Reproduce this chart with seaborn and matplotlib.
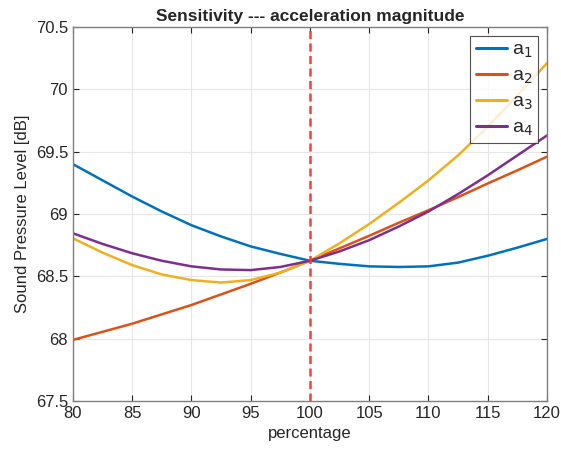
import numpy as np
import pandas as pd
import matplotlib
matplotlib.use('Agg')
import matplotlib.pyplot as plt
import seaborn as sns

# values every 2.5 %
percentage = [80, 82.5, 85, 87.5, 90, 92.5, 95, 97.5, 100,
              102.5, 105, 107.5, 110, 112.5, 115, 117.5, 120]
a1 = [69.40, 69.27, 69.14, 69.02, 68.91, 68.82, 68.74, 68.68, 68.625,
      68.60, 68.58, 68.575, 68.58, 68.61, 68.665, 68.73, 68.80]
a2 = [67.99, 68.055, 68.12, 68.195, 68.27, 68.355, 68.44, 68.53, 68.625,
      68.725, 68.825, 68.93, 69.03, 69.135, 69.245, 69.35, 69.46]
a3 = [68.805, 68.69, 68.59, 68.515, 68.47, 68.45, 68.47, 68.53, 68.625,
      68.765, 68.92, 69.09, 69.27, 69.47, 69.70, 69.95, 70.21]
a4 = [68.845, 68.76, 68.685, 68.625, 68.58, 68.555, 68.55, 68.575, 68.625,
      68.70, 68.79, 68.90, 69.02, 69.16, 69.31, 69.47, 69.63]
labels = ['a$_1$', 'a$_2$', 'a$_3$', 'a$_4$']
colors = ['#0072BD', '#D95319', '#EDB120', '#7E2F8E']

df = pd.DataFrame({'percentage': percentage * 4,
                   'spl': a1 + a2 + a3 + a4,
                   'param': sum([[l] * len(percentage) for l in labels], [])})

sns.set_style('white')
plt.rcParams['font.family'] = ['Liberation Sans', 'DejaVu Sans']

fig = plt.figure(figsize=(5.61, 4.53), dpi=100)
ax = fig.add_axes([0.130, 0.1148, 0.845, 0.8256])
sns.lineplot(data=df, x='percentage', y='spl', hue='param', palette=colors,
             linewidth=1.8, ax=ax)
ax.axvline(100, color='#FF3B3B', linestyle=(0, (3.2, 1.8)), linewidth=1.8)

ax.set_xlim(80, 120)
ax.set_ylim(67.5, 70.5)
ax.set_xticks(np.arange(80, 121, 5))
ax.set_yticks(np.arange(67.5, 70.6, 0.5))
ax.set_yticklabels(['67.5', '68', '68.5', '69', '69.5', '70', '70.5'])
ax.grid(True, color='#E6E6E6', linewidth=0.8)
ax.tick_params(axis='both', labelsize=12, colors='#262626', length=4,
               direction='in', bottom=True, left=True, top=True, right=True)
for s in ax.spines.values():
    s.set_color('#7F7F7F')
    s.set_linewidth(1.0)
ax.set_xlabel('percentage', fontsize=12, color='#262626')
ax.set_ylabel('Sound Pressure Level [dB]', fontsize=12, color='#262626')
ax.set_title('Sensitivity --- acceleration magnitude', fontsize=12.5,
             fontweight='bold', pad=4)

leg = ax.legend(loc='upper right', fontsize=14, frameon=True, fancybox=False,
                handlelength=1.6, handletextpad=0.25, borderaxespad=0.45,
                labelspacing=0.35, borderpad=0.3)
leg.get_frame().set_edgecolor('#262626')
leg.get_frame().set_linewidth(0.8)
for h in leg.get_lines():
    h.set_linewidth(2.2)

fig.savefig('out.png', dpi=100)
